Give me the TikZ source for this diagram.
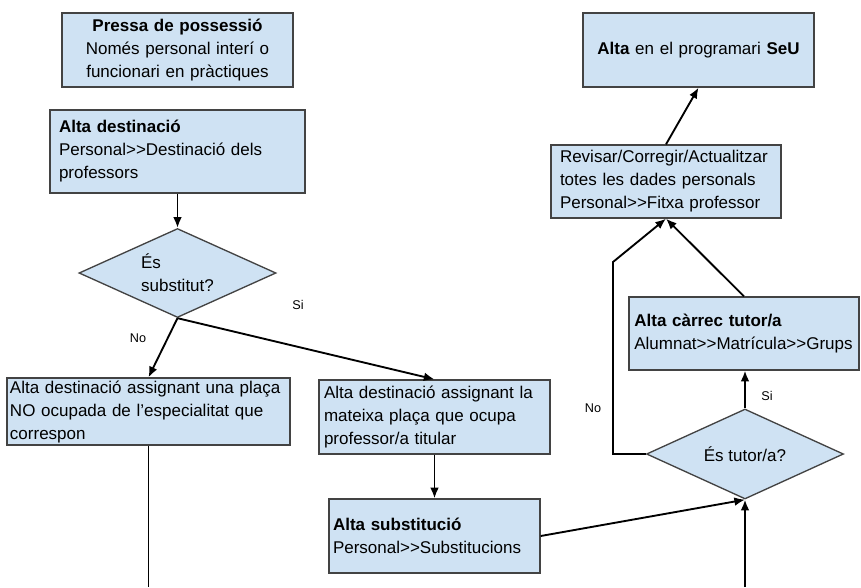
\documentclass[tikz,border=0pt]{standalone}
\usepackage{fontspec}
\setmainfont{Liberation Sans}
\usepackage{xcolor}
\usetikzlibrary{shapes.geometric,arrows.meta}
\definecolor{boxfill}{HTML}{CFE2F3}
\definecolor{boxline}{HTML}{434343}
\tikzset{
	stepbox/.style={
			draw=boxline, line width=1pt, fill=boxfill,
			font=\fontsize{12.75}{17.25}\selectfont,
			inner ysep=0pt, align=left
		},
	choice/.style={
			diamond, aspect=2.2, draw=boxline, line width=1pt, fill=boxfill,
			font=\fontsize{12.75}{17.25}\selectfont,
			inner sep=1pt, minimum width=147.75pt
		},
	flow/.style={draw=black, line width=1.4pt, -{Latex[length=8pt,width=6.5pt]}},
	plain/.style={draw=black, line width=1.4pt},
	answer/.style={font=\fontsize{9.5}{11}\selectfont}
}

\begin{document}
\begin{tikzpicture}[x=0.75pt, y=-0.75pt]
			\useasboundingbox (0,0) rectangle (861,587);

			% Boxes, left column
			\node[stepbox, align=center, text width=165pt, inner xsep=4.125pt, minimum height=55.5pt] (pressa) at (177.5,50)
			{\textbf{Pressa de possessió}\\Només personal interí o\\funcionari en pràctiques};
			\node[stepbox, text width=177.75pt, inner xsep=6.75pt, minimum height=62.25pt] (altadest) at (177.5,151.5)
			{\textbf{Alta destinació}\\Personal>{}>Destinació dels\\professors};
			\node[choice, minimum height=66.75pt, align=left] (substitut) at (177.5,273) {És\\substitut?};
			\node[stepbox, text width=207.75pt, inner xsep=2.25pt, minimum height=50.25pt] (noocup) at (148.5,411.5)
			{Alta destinació assignant una plaça\\NO ocupada de l’especialitat que\\correspon};
			\node[stepbox, text width=165.75pt, inner xsep=3.75pt, minimum height=55.5pt] (mateixa) at (434.5,417)
			{Alta destinació assignant la\\mateixa plaça que ocupa\\professor/a titular};
			\node[stepbox, text width=152.25pt, inner xsep=3pt, minimum height=55.5pt] (altasubst) at (434.5,536)
			{\textbf{Alta substitució}\\Personal>{}>Substitucions};

			% Boxes, right column
			\node[stepbox, align=center, text width=165pt, inner xsep=4.125pt, minimum height=55.5pt] (seu) at (698.5,50)
			{\textbf{Alta} en el programari \textbf{SeU}};
			\node[stepbox, text width=159pt, inner xsep=6.75pt, minimum height=54.75pt] (revisar) at (666,181.5)
			{Revisar/Corregir/Actualitzar\\totes les dades personals\\Personal>{}>Fitxa professor};
			\node[stepbox, text width=164.5pt, inner xsep=4pt, minimum height=54.75pt] (carrec) at (744,333.5)
			{\textbf{Alta càrrec tutor/a}\\Alumnat>{}>Matrícula>{}>Grups};
			\node[choice, minimum height=67.5pt] (tutor) at (745,454) {És tutor/a?};

			% Free ends and corner
			\coordinate (nocorner) at (613,262);
			\coordinate (bottomright) at (745,587);
			\coordinate (bottomleft) at (148.5,587);

			% Connectors
			\draw[flow] (altadest.south) -- (substitut.north);
			\draw[flow] (substitut.south) -- (noocup.north);
			\draw[flow] (substitut.south) -- (mateixa.north);
			\draw[flow] (mateixa.south) -- (altasubst.north);
			\draw[plain] (noocup.south) -- (bottomleft);
			\draw[flow] (altasubst.east) -- (tutor.south);
			\draw[flow] (bottomright) -- (tutor.south);
			\draw[flow] (tutor.north) -- (tutor.north |- carrec.south);
			\draw[flow] (tutor.west) -| (nocorner) -- (revisar.south);
			\draw[flow] (carrec.north) -- (revisar.south);
			\draw[flow] (revisar.north) -- (seu.south);

			% Answers
			\node[answer] (si1) at (298,305) {Si};
			\node[answer] (no1) at (138,338) {No};
			\node[answer] (si2) at (767,396) {Si};
			\node[answer] (no2) at (593,408) {No};
		\end{tikzpicture}
\end{document}
